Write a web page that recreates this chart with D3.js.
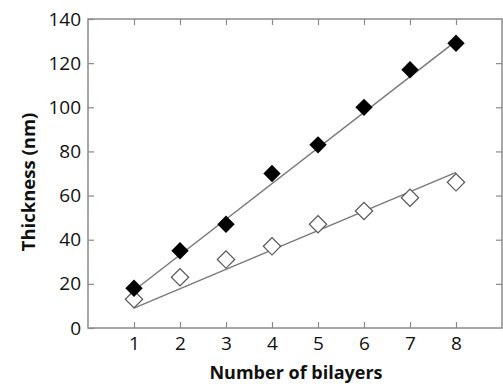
<!DOCTYPE html>
<html><head><meta charset="utf-8">
<script src="https://cdn.jsdelivr.net/npm/d3@7"></script>
<style>body{margin:0;background:#fff;}svg{display:block;font-family:"Open Sans",sans-serif;}</style>
</head><body>
<svg id="c" width="503" height="384"></svg>
<script>
const bilayers = [1, 2, 3, 4, 5, 6, 7, 8];
const filledValues = [18, 35, 47, 70, 83, 100, 117, 129];
const openValues = [13, 23, 31, 37, 47, 53, 59, 66];
const filledFit = [[1, 17], [8, 130]];
const openFit = [[1, 9], [8, 70.5]];
const yTicks = [0, 20, 40, 60, 80, 100, 120, 140];
const xLabel = "Number of bilayers";
const yLabel = "Thickness (nm)";

const svg = d3.select("#c");
const L = 88, R = 502, T = 19, B = 328;
const x = d3.scaleLinear().domain([0, 9]).range([L, R]);
const y = d3.scaleLinear().domain([0, 140]).range([B, T]);
const axisCol = "#8a8a8a";

svg.append("rect").attr("x", L).attr("y", T).attr("width", R - L).attr("height", B - T)
  .attr("fill", "none").attr("stroke", axisCol).attr("stroke-width", 1.5);

const gx = svg.append("g").attr("transform", `translate(0,${B})`)
  .call(d3.axisBottom(x).tickValues(bilayers).tickSize(-6).tickPadding(9).tickFormat(d3.format("d")));
const gxt = svg.append("g").attr("transform", `translate(0,${T})`)
  .call(d3.axisTop(x).tickValues(bilayers).tickSize(-6).tickFormat(""));
const gy = svg.append("g").attr("transform", `translate(${L},0)`)
  .call(d3.axisLeft(y).tickValues(yTicks).tickSize(-6).tickPadding(7));
const gyr = svg.append("g").attr("transform", `translate(${R},0)`)
  .call(d3.axisRight(y).tickValues(yTicks.slice(1, -1)).tickSize(-6).tickFormat(""));
[gx, gxt, gy, gyr].forEach(g => {
  g.select(".domain").remove();
  g.selectAll(".tick line").attr("stroke", axisCol).attr("stroke-width", 1.2);
  g.selectAll("text").attr("fill", "#111").style("font-size", "19px").style("font-family", '"Open Sans",sans-serif');
});

const line = d3.line().x(d => x(d[0])).y(d => y(d[1]));
[filledFit, openFit].forEach(f => {
  svg.append("path").attr("d", line(f)).attr("fill", "none").attr("stroke", "#7a7a7a").attr("stroke-width", 1.5);
});

const diamond = d3.symbol().type(d3.symbolSquare).size(150);
svg.append("g").selectAll("path").data(bilayers).join("path")
  .attr("d", diamond)
  .attr("transform", (d, i) => `translate(${x(d)},${y(openValues[i])}) rotate(45)`)
  .attr("fill", "#fff").attr("stroke", "#555").attr("stroke-width", 1.2);
svg.append("g").selectAll("path").data(bilayers).join("path")
  .attr("d", diamond)
  .attr("transform", (d, i) => `translate(${x(d)},${y(filledValues[i])}) rotate(45)`)
  .attr("fill", "#000");

svg.append("text").attr("x", 296).attr("y", 379).attr("text-anchor", "middle")
  .style("font-size", "18px").style("font-weight", "bold").attr("fill", "#111").text(xLabel);
svg.append("text").attr("transform", "translate(35,182) rotate(-90)").attr("text-anchor", "middle")
  .style("font-size", "18.5px").style("font-weight", "bold").attr("fill", "#111").text(yLabel);
</script>
</body></html>
